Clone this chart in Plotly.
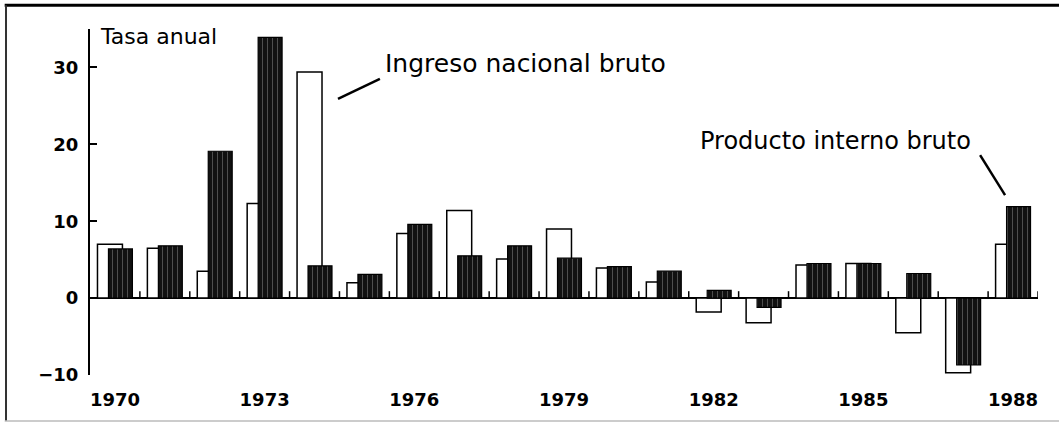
import plotly.graph_objects as go

years = list(range(1970, 1989))
ingreso = [7.0, 6.5, 3.5, 12.3, 29.4, 2.0, 8.4, 11.4, 5.1, 9.0, 3.9, 2.1,
           -1.8, -3.2, 4.3, 4.5, -4.5, -9.7, 7.0]
producto = [6.4, 6.8, 19.1, 33.9, 4.2, 3.1, 9.6, 5.5, 6.8, 5.2, 4.1, 3.5,
            1.0, -1.2, 4.5, 4.5, 3.2, -8.7, 11.9]
tick_years = [1970, 1973, 1976, 1979, 1982, 1985, 1988]
y_ticks = [-10, 0, 10, 20, 30]

fig = go.Figure()
fig.add_trace(go.Bar(
    x=years, y=ingreso, name="Ingreso nacional bruto",
    offset=-0.35, width=0.5,
    marker=dict(color="white", line=dict(color="black", width=1.5)),
))
fig.add_trace(go.Bar(
    x=years, y=producto, name="Producto interno bruto",
    offset=-0.13, width=0.48,
    marker=dict(color="#111111", line=dict(color="black", width=1.2),
                pattern=dict(shape="|", fgcolor="#9a9a9a", size=5, solidity=0.18)),
))

shapes = []
# slot boundary ticks on zero line
for yr in years:
    shapes.append(dict(type="line", xref="x", yref="y", x0=yr + 0.5, x1=yr + 0.5,
                       y0=0, y1=0.9, line=dict(color="black", width=1.5)))
# leader lines
shapes.append(dict(type="line", xref="x", yref="y", x0=1974.47, y0=25.9,
                   x1=1975.31, y1=28.5, line=dict(color="black", width=2.5)))
shapes.append(dict(type="line", xref="x", yref="y", x0=1987.34, y0=18.6,
                   x1=1987.84, y1=13.4, line=dict(color="black", width=2.5)))
# outer frame (paper coords: plot spans x 90..1038, y 29..375)
shapes.append(dict(type="line", xref="paper", yref="paper", x0=-0.09, x1=1.03,
                   y0=1.069, y1=1.069, line=dict(color="black", width=3)))
shapes.append(dict(type="line", xref="paper", yref="paper", x0=-0.0886, x1=-0.0886,
                   y0=1.069, y1=-0.133, line=dict(color="#333333", width=2)))
shapes.append(dict(type="line", xref="paper", yref="paper", x0=-0.09, x1=1.03,
                   y0=-0.133, y1=-0.133, line=dict(color="#bbbbbb", width=1.5)))

fig.update_layout(
    width=1059, height=423,
    margin=dict(l=90, r=21, t=29, b=48),
    paper_bgcolor="white", plot_bgcolor="white",
    barmode="overlay", showlegend=False,
    shapes=shapes,
    font=dict(family="DejaVu Sans", color="black"),
    xaxis=dict(range=[1969.5, 1988.5], tickvals=tick_years,
               ticktext=[str(t) for t in tick_years], ticks="", showline=False,
               showgrid=False, zeroline=False, ticklabelstandoff=12,
               tickfont=dict(family="DejaVu Sans", size=18, weight="bold", color="black")),
    yaxis=dict(range=[-10, 35], tickvals=y_ticks, ticks="inside", ticklen=7,
               tickwidth=2, tickcolor="black", showline=True, linecolor="black",
               linewidth=2, showgrid=False, zeroline=True, zerolinecolor="black",
               zerolinewidth=1.5, ticklabelstandoff=6,
               tickfont=dict(family="DejaVu Sans", size=18, weight="bold", color="black")),
    annotations=[
        dict(text="Tasa anual", xref="paper", yref="y", x=0.008, y=34.0,
             xanchor="left", yanchor="middle", showarrow=False,
             font=dict(family="DejaVu Sans", size=22, color="black")),
        dict(text="Ingreso nacional bruto", xref="x", yref="y", x=1975.37, y=30.45,
             xanchor="left", yanchor="middle", showarrow=False,
             font=dict(family="DejaVu Sans", size=25, color="black")),
        dict(text="Producto interno bruto", xref="x", yref="y", x=1981.68, y=20.4,
             xanchor="left", yanchor="middle", showarrow=False,
             font=dict(family="DejaVu Sans", size=24, color="black")),
    ],
)

fig.write_html("out.html", config={"displayModeBar": False},
               post_script="document.body.style.margin='0';document.body.style.overflow='hidden';")
